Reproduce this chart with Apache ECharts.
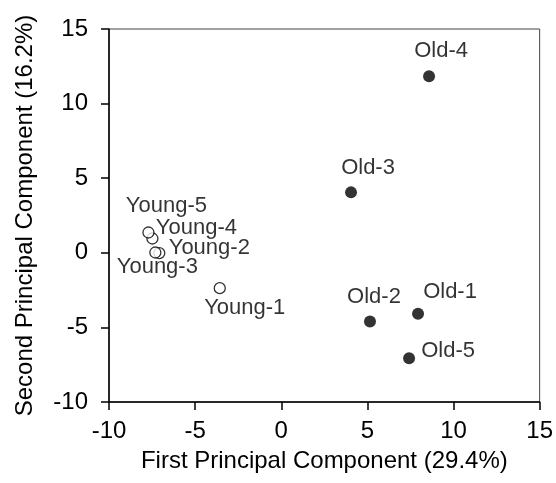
<!DOCTYPE html>
<html>
<head>
<meta charset="utf-8">
<script src="https://cdn.jsdelivr.net/npm/echarts@6/dist/echarts.min.js"></script>
<style>
html, body { margin: 0; padding: 0; background: #fff; }
#container { width: 556px; height: 483px; }
</style>
</head>
<body>
<div id="container"></div>
<script>
// PCA scores
var youngNames = ['Young-1', 'Young-2', 'Young-3', 'Young-4', 'Young-5'];
var youngX = [-3.57, -7.08, -7.31, -7.48, -7.71];
var youngY = [-2.37, -0.02, 0.02, 0.96, 1.36];

var oldNames = ['Old-1', 'Old-2', 'Old-3', 'Old-4', 'Old-5'];
var oldX = [7.94, 5.15, 4.05, 8.58, 7.42];
var oldY = [-4.09, -4.61, 4.05, 11.83, -7.07];

var xTicks = [-10, -5, 0, 5, 10, 15];
var yTicks = [-10, -5, 0, 5, 10, 15];

// where each label sits relative to its point (px)
var labelOffset = {
    'Young-1': [25, 20], 'Young-2': [50, -5], 'Young-3': [2, 14],
    'Young-4': [44, -11], 'Young-5': [18, -27],
    'Old-1': [32, -22], 'Old-2': [4, -25], 'Old-3': [17, -24],
    'Old-4': [12, -25], 'Old-5': [39, -7]
};

var FONT = 'Liberation Sans, Arial, sans-serif';

function buildPoints(names, xs, ys) {
    var out = [];
    for (var i = 0; i < names.length; i++) {
        out.push({
            name: names[i],
            value: [xs[i], ys[i]],
            label: { offset: labelOffset[names[i]] }
        });
    }
    return out;
}

var pointLabel = {
    show: true,
    position: 'inside',
    formatter: '{b}',
    color: '#000',
    fontFamily: FONT,
    fontSize: 22,
    align: 'center',
    verticalAlign: 'middle'
};

function axisBase(ticks, name, gap, margin) {
    return {
        type: 'value',
        min: ticks[0],
        max: ticks[ticks.length - 1],
        interval: 5,
        name: name,
        nameLocation: 'middle',
        nameGap: gap,
        nameTextStyle: { color: '#000', fontFamily: FONT, fontSize: 24 },
        axisLine: { show: true, onZero: false, lineStyle: { color: '#000', width: 1.5 } },
        axisTick: { show: true, inside: false, length: 8, lineStyle: { color: '#000', width: 1.5 } },
        axisLabel: { color: '#000', fontFamily: FONT, fontSize: 24, margin: margin },
        splitLine: { show: false }
    };
}

var chart = echarts.init(document.getElementById('container'));

var option = {
    backgroundColor: '#fff',
    animation: false,
    grid: {
        left: 109, right: 14, top: 29, bottom: 81,
        show: true, borderColor: '#444', borderWidth: 1
    },
    xAxis: axisBase(xTicks, 'First Principal Component (29.4%)', 47, 17),
    yAxis: axisBase(yTicks, 'Second Principal Component (16.2%)', 72, 21),
    series: [{
        name: 'Young',
        type: 'scatter',
        symbol: 'circle',
        symbolSize: 11,
        itemStyle: { color: '#fff', borderColor: '#000', borderWidth: 1.3 },
        label: pointLabel,
        data: buildPoints(youngNames, youngX, youngY)
    }, {
        name: 'Old',
        type: 'scatter',
        symbol: 'circle',
        symbolSize: 12,
        itemStyle: { color: '#000' },
        label: pointLabel,
        data: buildPoints(oldNames, oldX, oldY)
    }]
};

chart.setOption(option);
</script>
</body>
</html>
